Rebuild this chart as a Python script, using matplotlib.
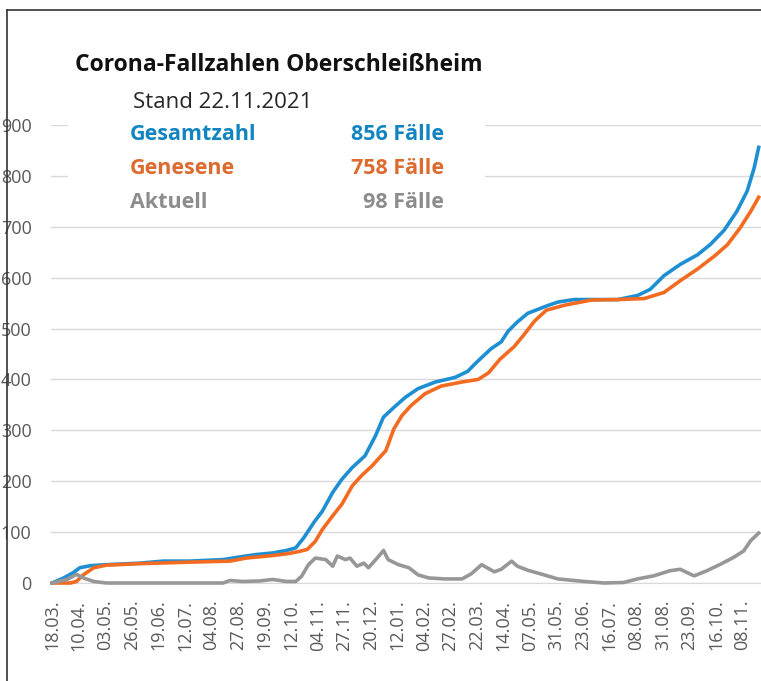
import matplotlib.pyplot as plt
from matplotlib.lines import Line2D
from matplotlib.patches import Rectangle

plt.rcParams['font.family'] = ['Open Sans', 'DejaVu Sans']

# category positions (one per reporting day, 18.03.2020 = 0)
tick_labels = ["18.03.", "10.04.", "03.05.", "26.05.", "19.06.", "12.07.", "04.08.",
               "27.08.", "19.09.", "12.10.", "04.11.", "27.11.", "20.12.", "12.01.",
               "04.02.", "27.02.", "22.03.", "14.04.", "07.05.", "31.05.", "23.06.",
               "16.07.", "08.08.", "31.08.", "23.09.", "16.10.", "08.11."]

# Gesamtzahl
ges_x = [0, 10, 18, 24, 33, 47, 76, 96, 119, 148, 162, 177, 191, 203, 211, 218, 227,
         234, 243, 251, 260, 271, 280, 287, 296, 306, 317, 332, 349, 360, 366, 372,
         380, 389, 395, 403, 412, 420, 429, 438, 452, 470, 490, 507, 518, 530, 544,
         559, 570, 582, 593, 602, 608, 612]
ges_y = [0, 10, 20, 30, 34, 36, 39, 43, 43, 46, 51, 56, 59, 64, 69, 89, 120,
         141, 178, 204, 227, 250, 289, 326, 345, 365, 382, 395, 404, 416, 430, 443,
         460, 474, 495, 513, 530, 537, 545, 552, 557, 557, 557, 565, 577, 604, 626,
         645, 665, 693, 730, 770, 815, 856]

# Genesene
gen_x = [0, 10, 16, 21, 27, 36, 47, 76, 119, 154, 168, 191, 205, 214, 221, 228, 234,
         243, 251, 260, 268, 277, 289, 296, 303, 311, 323, 337, 355, 369, 378, 388,
         400, 408, 418, 428, 444, 467, 490, 513, 530, 544, 559, 574, 585, 596, 605, 612]
gen_y = [0, 0, 0, 3, 16, 30, 35, 38, 41, 43, 49, 54, 58, 62, 66, 82, 105,
         132, 155, 191, 211, 230, 260, 303, 329, 349, 372, 387, 395, 400, 413, 440,
         464, 486, 515, 536, 546, 556, 557, 559, 571, 594, 617, 643, 665, 698, 730, 758]

# Aktuell
akt_x = [0, 13, 21, 27, 36, 47, 148, 154, 165, 180, 191, 203, 211, 216, 222, 228,
         237, 243, 247, 254, 258, 264, 270, 274, 283, 287, 291, 300, 309, 317, 326,
         340, 355, 363, 372, 383, 389, 398, 403, 412, 423, 438, 461, 478, 495, 507,
         521, 535, 544, 556, 567, 579, 590, 599, 605, 612]
akt_y = [0, 7, 17, 10, 3, 0, 0, 5, 3, 4, 7, 3, 3, 13, 36, 49,
         46, 33, 53, 46, 49, 33, 39, 30, 53, 64, 46, 36, 30, 16, 10,
         8, 8, 18, 36, 22, 27, 43, 33, 25, 18, 8, 3, 0, 1, 8,
         14, 24, 27, 14, 24, 37, 50, 63, 83, 98]

W, H = 761, 681
fig = plt.figure(figsize=(W / 100, H / 100), dpi=100)
ax = fig.add_axes([51 / W, 1 - 583 / H, (W - 51) / W, (583 - 125) / H])

blue = "#1E8FD2"
orange = "#F26B21"
grey = "#979797"
ax.plot(ges_x, ges_y, color=blue, lw=2.6, clip_on=False, zorder=3)
ax.plot(gen_x, gen_y, color=orange, lw=2.6, clip_on=False, zorder=4)
ax.plot(akt_x, akt_y, color=grey, lw=2.6, clip_on=False, zorder=5)

ax.set_xlim(-1, 614)
ax.set_ylim(0, 900)
ax.set_yticks(range(0, 1000, 100))
ax.set_xticks([i * 23 for i in range(len(tick_labels))])
ax.set_xticklabels(tick_labels, rotation=90, va="top", ha="center")
ax.tick_params(axis="x", length=0, pad=12, labelsize=13, labelcolor="#595959")
ax.tick_params(axis="y", length=0, pad=14, labelsize=13, labelcolor="#595959")
ax.grid(axis="y", color="#D9D9D9", lw=1)
ax.set_axisbelow(True)
for s in ["top", "right", "left"]:
    ax.spines[s].set_visible(False)
ax.spines["bottom"].set_color("#D9D9D9")

# white text box over the chart
fig.add_artist(Rectangle((68 / W, 1 - 215 / H), (485 - 68) / W, (215 - 40) / H,
                         transform=fig.transFigure, facecolor="white",
                         edgecolor="none", zorder=2))


def put(x, y, s, **kw):
    fig.text(x / W, 1 - y / H, s, va="baseline", zorder=3, **kw)


put(75, 71, "Corona-Fallzahlen Oberschleißheim", fontsize=16.5, fontweight="bold", color="#111111")
put(133, 108, "Stand 22.11.2021", fontsize=16, color="#262626")
put(130, 140, "Gesamtzahl", fontsize=15.5, fontweight="bold", color="#1284C0")
put(444, 140, "856 Fälle", fontsize=15.5, fontweight="bold", color="#1284C0", ha="right")
put(130, 174, "Genesene", fontsize=15.5, fontweight="bold", color="#DD6A2E")
put(444, 174, "758 Fälle", fontsize=15.5, fontweight="bold", color="#DD6A2E", ha="right")
put(130, 208, "Aktuell", fontsize=15.5, fontweight="bold", color="#8C8C8C")
put(444, 208, "98 Fälle", fontsize=15.5, fontweight="bold", color="#8C8C8C", ha="right")

# frame of the screenshot
fig.add_artist(Line2D([7 / W, 7 / W], [0, 1 - 10 / H], transform=fig.transFigure,
                      color="#333333", lw=1.2, zorder=6))
fig.add_artist(Line2D([7 / W, 1], [1 - 10 / H, 1 - 10 / H], transform=fig.transFigure,
                      color="#333333", lw=1.2, zorder=6))

fig.savefig("out.png", dpi=100)
